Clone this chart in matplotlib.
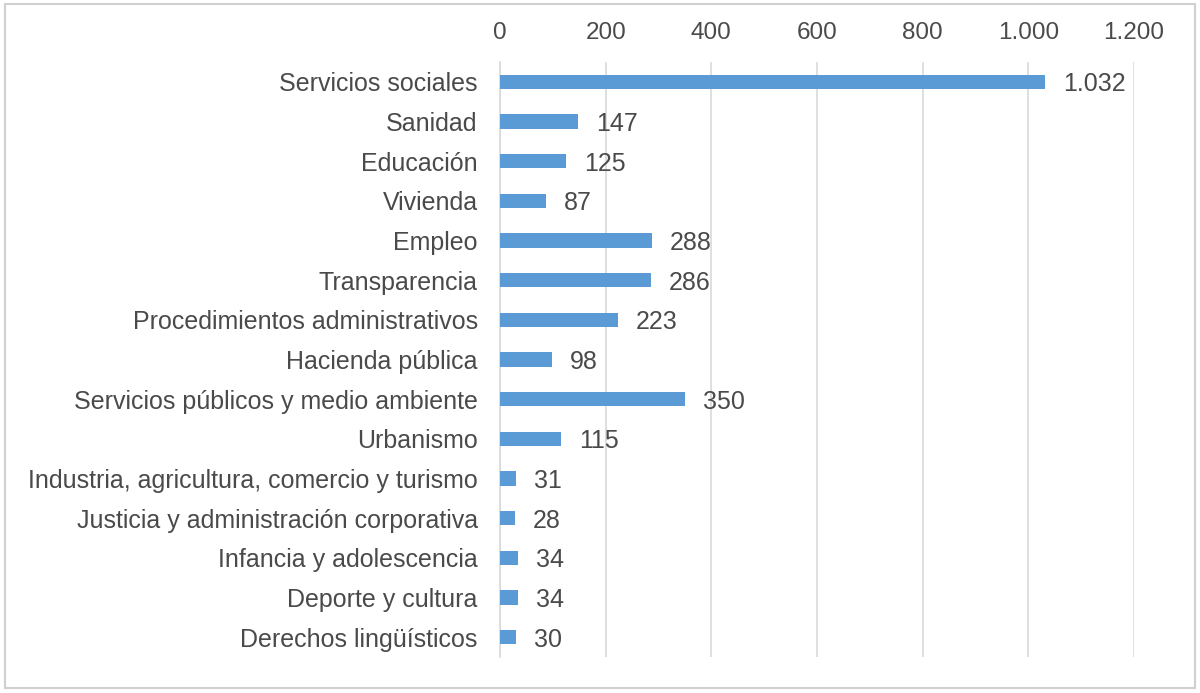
import matplotlib.pyplot as plt
from matplotlib.patches import Rectangle
from matplotlib.ticker import FuncFormatter

plt.rcParams['font.family'] = ['Liberation Sans', 'DejaVu Sans']

categories = ["Servicios sociales", "Sanidad", "Educación", "Vivienda", "Empleo",
              "Transparencia", "Procedimientos administrativos", "Hacienda pública",
              "Servicios públicos y medio ambiente", "Urbanismo",
              "Industria, agricultura, comercio y turismo",
              "Justicia y administración corporativa", "Infancia y adolescencia",
              "Deporte y cultura", "Derechos lingüísticos"]
values = [1032, 147, 125, 87, 288, 286, 223, 98, 350, 115, 31, 28, 34, 34, 30]
x_ticks = [0, 200, 400, 600, 800, 1000, 1200]

TEXT = '#4a4a4a'
BAR = '#5B9BD5'
GRID = '#D9D9D9'


def miles(v, pos=None):
    # thousands separator with a dot
    return f'{int(v):,}'.replace(',', '.')


fig = plt.figure(figsize=(12, 6.93), dpi=100)
ax = fig.add_axes([500/1200, 1 - 657/693, 634/1200, 595/693])

pos = list(range(len(categories)))
ax.barh(pos, values, height=0.36, color=BAR, zorder=3)
for p, v in zip(pos, values):
    ax.text(v + 34, p, miles(v), va='center_baseline', ha='left', fontsize=18, color=TEXT)

ax.set_ylim(len(categories) - 0.5, -0.5)
ax.set_xlim(0, 1200)
ax.set_yticks(pos)
ax.set_yticklabels(categories, fontsize=18, color=TEXT, va='center_baseline')
ax.set_xticks(x_ticks)
ax.xaxis.set_major_formatter(FuncFormatter(miles))
ax.xaxis.tick_top()
ax.tick_params(axis='x', length=0, labelsize=17.5, labelcolor=TEXT, pad=13)
ax.tick_params(axis='y', length=0, pad=16)
ax.grid(axis='x', color=GRID, linewidth=1.2, zorder=0)
for s in ['top', 'right', 'bottom']:
    ax.spines[s].set_visible(False)
ax.spines['left'].set_color(GRID)
ax.spines['left'].set_linewidth(1.2)

# light frame around the whole chart
fig.patches.append(Rectangle((5/1200, 5/693), 1190/1200, 684/693, transform=fig.transFigure,
                             fill=False, edgecolor='#D0D0D0', linewidth=1.5))

fig.savefig('out.png', dpi=100)
